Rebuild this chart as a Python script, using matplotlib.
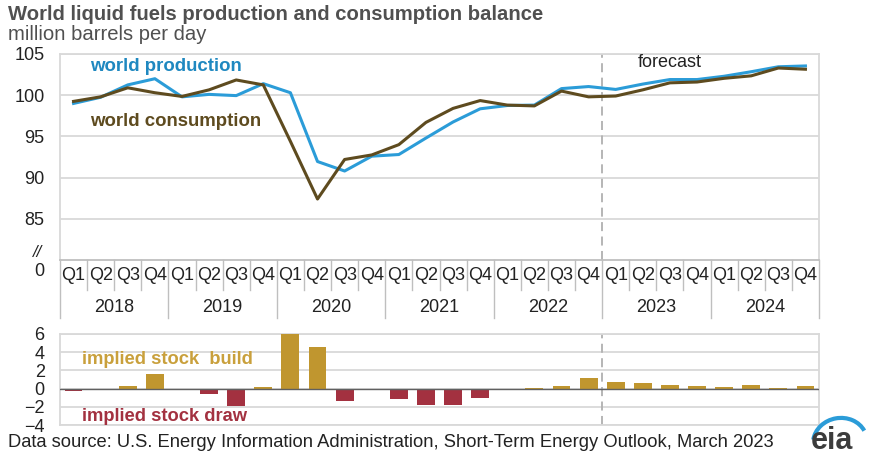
import matplotlib
matplotlib.use('Agg')
import matplotlib.pyplot as plt
from matplotlib.lines import Line2D
from matplotlib.patches import Arc
import matplotlib.transforms as mtransforms
import numpy as np

plt.rcParams['font.family'] = ['Liberation Sans', 'DejaVu Sans']

years = ['2018', '2019', '2020', '2021', '2022', '2023', '2024']
quarters = ['Q1', 'Q2', 'Q3', 'Q4']

production = [99.0, 99.75, 101.25, 102.0, 99.8, 100.1, 99.95, 101.4,
              100.3, 91.95, 90.8, 92.6, 92.8, 94.8, 96.75, 98.35,
              98.75, 98.8, 100.8, 101.05, 100.7, 101.35, 101.9, 101.9,
              102.3, 102.85, 103.45, 103.55]
consumption = [99.25, 99.8, 100.9, 100.3, 99.85, 100.65, 101.85, 101.25,
               94.4, 87.4, 92.2, 92.75, 94.0, 96.7, 98.4, 99.35,
               98.8, 98.7, 100.5, 99.8, 99.9, 100.65, 101.5, 101.6,
               102.05, 102.35, 103.3, 103.15]
stock_change = [-0.3, -0.1, 0.25, 1.65, -0.1, -0.6, -1.9, 0.15,
                6.0, 4.55, -1.35, -0.1, -1.15, -1.85, -1.75, -1.0,
                -0.05, 0.05, 0.3, 1.2, 0.75, 0.6, 0.35, 0.3,
                0.15, 0.45, 0.12, 0.33]

BLUE = '#2b9cd8'
BROWN = '#5e4b1f'
GOLD = '#c0962f'
RED = '#a33140'
GRID = '#d9d9d9'
SEP = '#bfbfbf'
TXT = '#222222'
FS = 13

n = len(production)
x = np.arange(n)
forecast_x = 19.5

fig = plt.figure(figsize=(8.74, 4.66), dpi=100)
ax = fig.add_axes([60 / 874, 1 - 260 / 466, 759 / 874, 206 / 466])
axb = fig.add_axes([60 / 874, 1 - 425 / 466, 759 / 874, 91 / 466])

# ---- oberes Panel: Produktion / Verbrauch
ax.plot(x, production, color=BLUE, lw=2.2, zorder=3)
ax.plot(x, consumption, color=BROWN, lw=2.2, zorder=3)
ax.set_xlim(-0.5, n - 0.5)
ax.set_ylim(80, 105)
ax.set_yticks([85, 90, 95, 100, 105])
ax.set_yticklabels(['85', '90', '95', '100', '105'])
ax.set_xticks([])
ax.tick_params(axis='y', length=0, pad=11, labelsize=FS, colors=TXT)
ax.grid(axis='y', color=GRID, lw=1.3)
ax.set_axisbelow(True)
for s in ax.spines.values():
    s.set_color(GRID)
    s.set_linewidth(1.3)
ax.spines['bottom'].set_color(SEP)
ax.axvline(forecast_x, color='#b0b0b0', lw=1.3, ls=(0, (5, 3)), zorder=2)

# Achsenbruch-Markierung
ax.text(-0.030, 0.035, '//', transform=ax.transAxes, ha='center', va='center',
        fontsize=12, color=TXT, style='italic')
ax.text(-0.020, -0.058, '0', transform=ax.transAxes, ha='right', va='center',
        fontsize=FS, color=TXT)

ax.text(0.6, 103.5, 'world production', color='#1f88c0', fontsize=13.4,
        fontweight='bold', va='center')
ax.text(0.6, 96.8, 'world consumption', color=BROWN, fontsize=13.4,
        fontweight='bold', va='center')
ax.text(22.0, 104.0, 'forecast', color=TXT, fontsize=FS,
        ha='center', va='center')

# Kategorie-Achse (Quartale und Jahre)
trans = mtransforms.blended_transform_factory(ax.transData, ax.transAxes)
for i in range(n):
    ax.text(i, -0.073, quarters[i % 4], transform=trans, ha='center',
            va='center', fontsize=FS, color=TXT)
for b in range(n + 1):
    edge = b - 0.5
    bottom = -0.282 if b % 4 == 0 else -0.146
    ax.add_line(Line2D([edge, edge], [0, bottom], transform=trans,
                       color=SEP, lw=1.0, clip_on=False))
for k, yr in enumerate(years):
    ax.text(4 * k + 1.5, -0.233, yr, transform=trans, ha='center',
            va='center', fontsize=FS, color=TXT)

# ---- unteres Panel: Lagerbestand
cols = [GOLD if v >= 0 else RED for v in stock_change]
axb.bar(x, stock_change, width=0.66, color=cols, zorder=3)
axb.axhline(0, color='#606060', lw=1.0, zorder=4)
axb.set_xlim(-0.5, n - 0.5)
axb.set_ylim(-4, 6)
axb.set_yticks([-4, -2, 0, 2, 4, 6])
axb.set_xticks([])
axb.tick_params(axis='y', length=0, pad=11, labelsize=FS, colors=TXT)
axb.grid(axis='y', color=GRID, lw=1.3)
axb.set_axisbelow(True)
for s in axb.spines.values():
    s.set_color(GRID)
    s.set_linewidth(1.3)
axb.axvline(forecast_x, color='#b0b0b0', lw=1.3, ls=(0, (5, 3)), zorder=2)
axb.text(0.31, 3.2, 'implied stock  build', color='#c9a03c', fontsize=13.2,
         fontweight='bold', va='center')
axb.text(0.31, -3.05, 'implied stock draw', color=RED, fontsize=13.2,
         fontweight='bold', va='center')

# ---- Titel und Quelle
fig.text(8 / 874, 1 - 14 / 466, 'World liquid fuels production and consumption balance',
         fontsize=14.6, fontweight='bold', color='#505050', va='center')
fig.text(8 / 874, 1 - 35 / 466, 'million barrels per day',
         fontsize=14.6, color='#505050', va='center')
fig.text(8 / 874, 1 - 447 / 466,
         'Data source: U.S. Energy Information Administration, Short-Term Energy Outlook, March 2023',
         fontsize=13.2, color=TXT, va='baseline')

# eia Logo
fig.text(832 / 874, 1 - 441 / 466, 'eia', fontsize=22, fontweight='bold',
         color='#3c3c3c', ha='center', va='center')
logo = fig.add_axes([800 / 874, 0, 74 / 874, 74 / 466])
logo.set_xlim(800, 874)
logo.set_ylim(466, 392)
logo.axis('off')
logo.add_patch(Arc((840, 442), 54, 48, angle=-10, theta1=-165, theta2=-15,
                   color=BLUE, lw=3.0))

fig.savefig('out.png', dpi=100)
